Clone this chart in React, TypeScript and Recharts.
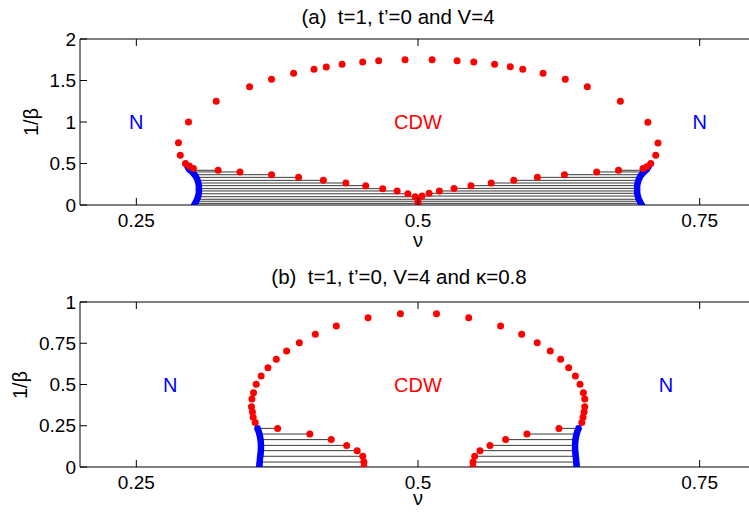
import React from 'react'
import { ScatterChart, Scatter, XAxis, YAxis, ReferenceDot } from 'recharts'

const FONT = '"Liberation Sans", Arial, Helvetica, sans-serif'
const RED = '#ff0000'
const BLUE = '#0000ff'
const TIE = '#3a3a3a'

// x axis (nu), shared by both panels
const nuDomain = [0.2, 0.8]
const nuTicks = [0.25, 0.5, 0.75]

// ---------- panel (a): t=1, t'=0, V=4 ----------
const aTicks = [0, 0.5, 1, 1.5, 2]

// outer red dome, from left foot up and over to right foot
const aArcNu = [0.3007, 0.297, 0.2936, 0.289, 0.2874, 0.2963, 0.3209, 0.3505, 0.37, 0.3896, 0.4077, 0.4186, 0.4326, 0.4509, 0.4651, 0.4885, 0.5125, 0.5347, 0.5495, 0.568, 0.5819, 0.593, 0.611, 0.6307, 0.6503, 0.6796, 0.704, 0.713, 0.711, 0.7066, 0.703, 0.6997]
const aArcT = [0.44, 0.47, 0.5, 0.6, 0.75, 1.0, 1.25, 1.425, 1.514, 1.587, 1.635, 1.663, 1.695, 1.723, 1.739, 1.751, 1.751, 1.739, 1.723, 1.695, 1.667, 1.635, 1.587, 1.514, 1.425, 1.25, 0.996, 0.747, 0.6, 0.5, 0.46, 0.44]

// lower red branch (left and right halves)
const aLowLNu = [0.3226, 0.342, 0.37, 0.394, 0.416, 0.436, 0.4536, 0.4687, 0.4815, 0.491, 0.4975, 0.5, 0.5]
const aLowLT = [0.418, 0.398, 0.365, 0.333, 0.297, 0.265, 0.233, 0.197, 0.169, 0.135, 0.1, 0.069, 0.03]
const aLowRNu = [0.5035, 0.5098, 0.519, 0.532, 0.547, 0.565, 0.585, 0.606, 0.63, 0.6586, 0.678]
const aLowRT = [0.108, 0.141, 0.169, 0.2, 0.233, 0.265, 0.297, 0.333, 0.365, 0.398, 0.418]

// blue boundaries (dense points)
const aBlueT = [0.46, 0.43, 0.41, 0.39, 0.35, 0.31, 0.27, 0.23, 0.19, 0.15, 0.11, 0.07, 0.03, 0]
const aBlueLNu = [0.2955, 0.2968, 0.2985, 0.3, 0.3025, 0.304, 0.305, 0.3055, 0.3055, 0.3055, 0.305, 0.304, 0.3025, 0.3013]
const aBlueRNu = [0.7045, 0.7032, 0.7015, 0.7, 0.6975, 0.696, 0.695, 0.6945, 0.6945, 0.6945, 0.695, 0.696, 0.6975, 0.6987]

// tie lines
const aTieLT = [0.418, 0.398, 0.365, 0.333, 0.297, 0.265, 0.233, 0.197, 0.169, 0.135, 0.1, 0.069, 0.045, 0.02]
const aTieLBlue = [0.297, 0.299, 0.302, 0.304, 0.305, 0.3055, 0.3055, 0.3055, 0.3055, 0.3055, 0.305, 0.304, 0.3035, 0.3025]
const aTieLRed = [0.3226, 0.342, 0.37, 0.394, 0.416, 0.436, 0.4536, 0.4687, 0.4815, 0.491, 0.4975, 0.5, 0.5, 0.5]
const aTieRT = [0.418, 0.398, 0.365, 0.333, 0.297, 0.265, 0.233, 0.2, 0.169, 0.141, 0.108, 0.069, 0.045, 0.02]
const aTieRRed = [0.678, 0.6586, 0.63, 0.606, 0.585, 0.565, 0.547, 0.532, 0.519, 0.5098, 0.5035, 0.5, 0.5, 0.5]
const aTieRBlue = [0.703, 0.701, 0.698, 0.696, 0.695, 0.6945, 0.6945, 0.6945, 0.6945, 0.6945, 0.695, 0.696, 0.6965, 0.6975]

// ---------- panel (b): t=1, t'=0, V=4, kappa=0.8 ----------
const bTicks = [0, 0.25, 0.5, 0.75, 1]

const bArcNu = [0.3555, 0.3537, 0.3531, 0.3522, 0.3526, 0.354, 0.3564, 0.3608, 0.3668, 0.3742, 0.3834, 0.3947, 0.4089, 0.4275, 0.4557, 0.4844, 0.5164, 0.545, 0.5733, 0.592, 0.6058, 0.6174, 0.6266, 0.6337, 0.6397, 0.6438, 0.6468, 0.648, 0.648, 0.6474, 0.6465, 0.6454]
const bArcT = [0.269, 0.301, 0.333, 0.365, 0.412, 0.45, 0.501, 0.552, 0.602, 0.653, 0.703, 0.753, 0.804, 0.855, 0.905, 0.929, 0.929, 0.905, 0.855, 0.804, 0.753, 0.703, 0.653, 0.602, 0.552, 0.501, 0.45, 0.412, 0.365, 0.333, 0.301, 0.269]

const bLowT = [0.234, 0.2, 0.166, 0.131, 0.099, 0.065, 0.03, 0]
const bLowLNu = [0.3754, 0.404, 0.423, 0.4367, 0.446, 0.451, 0.452, 0.452]
const bLowRNu = [0.6251, 0.5967, 0.5778, 0.5639, 0.555, 0.5503, 0.5488, 0.5488]

const bBlueT = [0.234, 0.217, 0.2, 0.183, 0.166, 0.149, 0.131, 0.115, 0.099, 0.082, 0.065, 0.048, 0.03, 0.015, 0]
const bBlueLNu = [0.3575, 0.3585, 0.3592, 0.3598, 0.3602, 0.3605, 0.3606, 0.3606, 0.3605, 0.3603, 0.36, 0.3597, 0.3595, 0.3593, 0.3592]
const bBlueRNu = [0.6425, 0.6415, 0.6408, 0.6402, 0.6398, 0.6395, 0.6394, 0.6394, 0.6395, 0.6397, 0.64, 0.6403, 0.6405, 0.6407, 0.6408]

const bTieLBlue = [0.3575, 0.3592, 0.3602, 0.3606, 0.3605, 0.36, 0.3595, 0.3592]
const bTieRBlue = [0.6425, 0.6408, 0.6398, 0.6394, 0.6395, 0.64, 0.6405, 0.6408]

// region labels
const regionText = ['N', 'CDW', 'N']
const regionColor = [BLUE, RED, BLUE]
const aRegionNu = [0.25, 0.5, 0.75]
const aRegionT = [1, 1, 1]
const bRegionNu = [0.28, 0.5, 0.72]
const bRegionT = [0.5, 0.5, 0.5]

type Pt = { nu: number; t: number }
const pts = (nu: number[], t: number[]): Pt[] => nu.map((v, i) => ({ nu: v, t: t[i] }))

const ties = (t: number[], a: number[], b: number[]): Pt[][] =>
  t.map((v, i) => [{ nu: a[i], t: v }, { nu: b[i], t: v }])

const Nothing = () => <g />

const dot = (color: string, r: number) => (p: any) =>
  <circle cx={p.cx} cy={p.cy} r={r} fill={color} stroke="none" />

// matlab-style inward ticks
const TICK = 7
const X_GAP = 9
const Y_GAP = 4
const LABEL_SIZE = 19

const BottomTick = (p: any) => {
  const axisY = p.y - X_GAP
  return (
    <g>
      <line x1={p.x} x2={p.x} y1={axisY} y2={axisY - TICK} stroke="#000" strokeWidth={1} />
      <text x={p.x} y={p.y} dy="0.71em" textAnchor="middle" fill="#000" fontSize={LABEL_SIZE} fontFamily={FONT}>
        {String(p.payload.value)}
      </text>
    </g>
  )
}

const TopTick = (p: any) => {
  const axisY = p.y + X_GAP
  return <line x1={p.x} x2={p.x} y1={axisY} y2={axisY + TICK} stroke="#000" strokeWidth={1} />
}

const LeftTick = (p: any) => {
  const axisX = p.x + Y_GAP
  return (
    <g>
      <line x1={axisX} x2={axisX + TICK} y1={p.y} y2={p.y} stroke="#000" strokeWidth={1} />
      <text x={p.x} y={p.y} dy="0.355em" textAnchor="end" fill="#000" fontSize={LABEL_SIZE} fontFamily={FONT}>
        {String(p.payload.value)}
      </text>
    </g>
  )
}

interface PanelProps {
  height: number
  top: number
  yMax: number
  yTicks: number[]
  arc: Pt[]
  lows: Pt[][]
  blues: Pt[][]
  blueAsLine: boolean
  tieLines: Pt[][]
  regionNu: number[]
  regionT: number[]
}

const Panel = (p: PanelProps) => (
  <ScatterChart
    width={760}
    height={p.height}
    margin={{ top: p.top, right: 4, bottom: 0, left: 40 }}
  >
    <XAxis
      dataKey="nu"
      type="number"
      domain={nuDomain}
      ticks={nuTicks}
      allowDataOverflow
      height={45}
      stroke="#000"
      tickSize={0}
      tickLine={false}
      tickMargin={X_GAP}
      tick={BottomTick}
    />
    <XAxis
      xAxisId="top"
      orientation="top"
      dataKey="nu"
      type="number"
      domain={nuDomain}
      ticks={nuTicks}
      allowDataOverflow
      height={1}
      stroke="#000"
      tickSize={0}
      tickLine={false}
      tickMargin={X_GAP}
      tick={TopTick}
    />
    <YAxis
      dataKey="t"
      type="number"
      domain={[0, p.yMax]}
      ticks={p.yTicks}
      allowDataOverflow
      width={40}
      stroke="#000"
      tickSize={0}
      tickLine={false}
      tickMargin={Y_GAP}
      tick={LeftTick}
    />
    {p.tieLines.map((d, i) => (
      <Scatter
        key={'tie' + i}
        data={d}
        line={{ stroke: TIE, strokeWidth: 1 }}
        shape={Nothing}
        isAnimationActive={false}
      />
    ))}
    {p.blues.map((d, i) =>
      p.blueAsLine ? (
        <Scatter
          key={'blue' + i}
          data={d}
          line={{ stroke: BLUE, strokeWidth: 6.5, strokeLinecap: 'round', strokeLinejoin: 'round' }}
          shape={Nothing}
          isAnimationActive={false}
        />
      ) : (
        <Scatter key={'blue' + i} data={d} shape={dot(BLUE, 3.3)} isAnimationActive={false} />
      )
    )}
    <Scatter data={p.arc} shape={dot(RED, 3.5)} isAnimationActive={false} />
    {p.lows.map((d, i) => (
      <Scatter key={'low' + i} data={d} shape={dot(RED, 3.5)} isAnimationActive={false} />
    ))}
    {regionText.map((s, i) => (
      <ReferenceDot
        key={'reg' + i}
        x={p.regionNu[i]}
        y={p.regionT[i]}
        r={0}
        fill="none"
        stroke="none"
        label={{ value: s, position: 'center', fill: regionColor[i], fontSize: 20, fontFamily: FONT }}
      />
    ))}
  </ScatterChart>
)

const textBase: React.CSSProperties = {
  position: 'absolute',
  fontFamily: FONT,
  fontSize: 20.5,
  color: '#000',
  whiteSpace: 'pre',
  lineHeight: 1,
}

// tight line box for the nu symbol so it sits close under the tick labels
const nuStyle: React.CSSProperties = {
  ...textBase,
  fontSize: 20,
  lineHeight: '10px',
  height: 10,
  transform: 'translate(-50%, -50%)',
}

export default function App() {
  return (
    <div
      style={{
        position: 'absolute',
        left: 0,
        top: 0,
        width: 749,
        height: 512,
        overflow: 'hidden',
        background: '#fff',
      }}
    >
      <div style={{ position: 'absolute', left: 0, top: 0 }}>
        <Panel
          height={250}
          top={38}
          yMax={2}
          yTicks={aTicks}
          arc={pts(aArcNu, aArcT)}
          lows={[pts(aLowLNu, aLowLT), pts(aLowRNu, aLowRT)]}
          blues={[pts(aBlueLNu, aBlueT), pts(aBlueRNu, aBlueT)]}
          blueAsLine
          tieLines={[...ties(aTieLT, aTieLBlue, aTieLRed), ...ties(aTieRT, aTieRRed, aTieRBlue)]}
          regionNu={aRegionNu}
          regionT={aRegionT}
        />
      </div>
      <div style={{ position: 'absolute', left: 0, top: 250 }}>
        <Panel
          height={262}
          top={51}
          yMax={1}
          yTicks={bTicks}
          arc={pts(bArcNu, bArcT)}
          lows={[pts(bLowLNu, bLowT), pts(bLowRNu, bLowT)]}
          blues={[pts(bBlueLNu, bBlueT), pts(bBlueRNu, bBlueT)]}
          blueAsLine={false}
          tieLines={[...ties(bLowT, bTieLBlue, bLowLNu), ...ties(bLowT, bLowRNu, bTieRBlue)]}
          regionNu={bRegionNu}
          regionT={bRegionT}
        />
      </div>

      <div style={{ ...textBase, left: 398, top: 17, transform: 'translate(-50%, -50%)' }}>
        {'(a)  t=1, t’=0 and V=4'}
      </div>
      <div style={{ ...textBase, left: 399, top: 277, transform: 'translate(-50%, -50%)' }}>
        {'(b)  t=1, t’=0, V=4 and κ=0.8'}
      </div>
      <div style={{ ...nuStyle, left: 418, top: 240 }}>ν</div>
      <div style={{ ...nuStyle, left: 418, top: 498 }}>ν</div>
      <div style={{ ...textBase, fontSize: 20, left: 31, top: 122, transform: 'translate(-50%, -50%) rotate(-90deg)' }}>
        1/β
      </div>
      <div style={{ ...textBase, fontSize: 20, left: 20, top: 385, transform: 'translate(-50%, -50%) rotate(-90deg)' }}>
        1/β
      </div>
    </div>
  )
}
